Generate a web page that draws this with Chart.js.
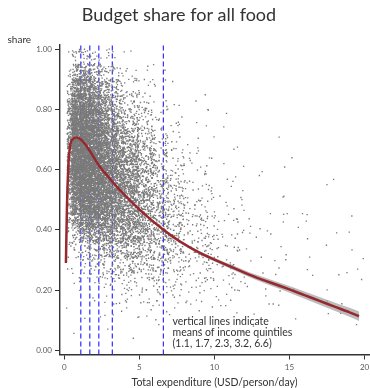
<!DOCTYPE html>
<html>
<head>
<meta charset="utf-8">
<script src="https://cdn.jsdelivr.net/npm/chart.js@4/dist/chart.umd.min.js"></script>
<style>
  html, body { margin: 0; padding: 0; background: #fff; }
  #wrap { width: 370px; height: 388px; position: relative; }
</style>
</head>
<body>
<div id="wrap"><canvas id="c" width="370" height="388"></canvas></div>
<script>
// ---- data ----------------------------------------------------------------
const quintileMeans = [1.1, 1.7, 2.3, 3.2, 6.6];   // USD/person/day
const xTicks = [0, 5, 10, 15, 20];
const yTicks = [0, 0.2, 0.4, 0.6, 0.8, 1.0];

// household scatter, binned: x-band edges and counts per 0.05 share band
const binEdgesX = [0.2, 0.5, 1, 1.5, 2, 2.5, 3, 3.5, 4, 5, 6, 7, 8, 10, 12, 15, 20];
const binStepY = 0.05;
// each row: one x-band, share bands from 0.00-0.05 (left) to 0.95-1.00 (right)
const cellCounts = [
  [0,0,0,0,0,1,2,5,10,17,26,34,38,38,36,30,22,12,5,1],
  [0,0,0,0,1,2,6,18,48,108,162,192,204,204,192,168,132,84,36,10],
  [0,0,0,1,2,5,12,34,78,144,190,204,210,210,198,174,138,96,48,12],
  [0,0,0,1,2,6,17,42,90,150,182,198,198,192,180,150,114,72,36,10],
  [0,0,1,1,4,8,22,48,90,138,162,174,168,156,138,108,78,48,22,6],
  [0,0,1,2,5,11,24,50,84,120,138,142,132,120,102,78,54,34,14,5],
  [0,0,1,2,6,12,26,50,78,102,114,110,102,90,72,54,36,22,10,2],
  [0,0,1,2,6,12,24,46,66,86,94,89,78,66,50,36,24,14,6,1],
  [0,0,3,6,14,30,58,95,126,140,140,128,112,87,63,42,25,13,6,1],
  [0,0,3,7,14,27,47,68,81,86,81,70,57,43,30,19,11,5,3,0],
  [0,1,3,6,13,23,36,47,52,49,43,35,26,18,12,7,4,3,1,0],
  [0,0,2,5,10,17,24,29,30,26,22,17,12,8,5,4,2,1,0,0],
  [0,1,3,8,15,22,26,27,24,19,14,10,7,5,3,3,2,0,0,0],
  [0,1,3,6,9,11,11,9,8,6,5,3,2,2,1,1,0,0,0,0],
  [0,1,2,4,6,6,5,4,4,3,2,2,1,0,1,0,0,0,0,0],
  [0,1,3,4,4,4,4,3,3,2,1,1,1,0,0,0,0,0,0,0]
];
// a few isolated households at very low shares
const lowOutliers = [
  { x: 0.16, y: 0.14 }, { x: 0.64, y: 0.056 }, { x: 1.37, y: 0.106 },
  { x: 2.9, y: 0.07 }, { x: 4.6, y: 0.04 }
];

// fitted curve with its confidence half-width
const curveX = [0.11, 0.18, 0.27, 0.38, 0.55, 0.82, 1.2, 1.7, 2.37, 3.0, 3.7, 5.03, 6.6, 7.68, 9.0, 10.0, 11.0, 12.0, 13.0, 14.0, 15.0, 16.0, 17.0, 18.0, 19.0, 19.63];
const curveY = [0.29, 0.48, 0.61, 0.676, 0.700, 0.706, 0.695, 0.662, 0.609, 0.572, 0.532, 0.466, 0.400, 0.362, 0.324, 0.301, 0.279, 0.258, 0.238, 0.220, 0.202, 0.183, 0.164, 0.145, 0.126, 0.113];
const curveHalf = [0.05, 0.03, 0.018, 0.01, 0.007, 0.005, 0.004, 0.004, 0.004, 0.004, 0.004, 0.004, 0.004, 0.005, 0.005, 0.006, 0.007, 0.008, 0.009, 0.010, 0.011, 0.012, 0.013, 0.014, 0.015, 0.016];

// ---- derived series --------------------------------------------------------
// deterministic integer hash -> [0,1), used to spread a cell's households over the cell
function unitHash(n) {
  let h = n | 0;
  h = Math.imul(h ^ (h >>> 16), 0x45d9f3b);
  h = Math.imul(h ^ (h >>> 16), 0x45d9f3b);
  h ^= h >>> 16;
  return (h >>> 0) / 4294967296;
}
const scatterPts = [];
cellCounts.forEach((row, c) => {
  const x0 = binEdgesX[c], x1 = binEdgesX[c + 1];
  row.forEach((n, r) => {
    const y0 = r * binStepY;
    for (let i = 0; i < n; i++) {
      const key = ((c * 20 + r) * 1000 + i) * 2 + 7;
      scatterPts.push({ x: x0 + unitHash(key) * (x1 - x0), y: y0 + unitHash(key + 1) * binStepY });
    }
  });
});
lowOutliers.forEach(p => scatterPts.push(p));

const curvePts = curveX.map((x, i) => ({ x, y: curveY[i] }));
const upperPts = curveX.map((x, i) => ({ x, y: curveY[i] + curveHalf[i] }));
const lowerPts = curveX.map((x, i) => ({ x, y: curveY[i] - curveHalf[i] }));

const X_MIN = -0.285, X_MAX = 20.3, Y_MIN = -0.014, Y_MAX = 1.015;
const FONT = 'Lato, "Open Sans", sans-serif';
const INK = '#333333';
const TICK_INK = '#595959';

const quintileSets = quintileMeans.map(m => ({
  type: 'line',
  data: [{ x: m, y: Y_MIN }, { x: m, y: Y_MAX }],
  borderColor: 'rgb(45,45,255)',
  borderWidth: 1.2,
  borderDash: [5, 3],
  pointRadius: 0,
  fill: false,
  order: 4
}));

// ---- text drawn around the plot -------------------------------------------
const labelsPlugin = {
  id: 'labels',
  afterDraw(chart) {
    const ctx = chart.ctx;
    ctx.save();
    ctx.fillStyle = INK;
    ctx.textBaseline = 'alphabetic';

    ctx.font = '18px ' + FONT;
    ctx.textAlign = 'center';
    ctx.fillText('Budget share for all food', 179, 21);

    ctx.font = '10px ' + FONT;
    ctx.textAlign = 'left';
    ctx.fillText('share', 7.5, 43);

    const xs = chart.scales.x;
    ctx.font = '10.5px ' + FONT;
    ctx.textAlign = 'center';
    ctx.fillText('Total expenditure (USD/person/day)', (xs.left + xs.right) / 2, 386);

    ctx.textAlign = 'left';
    ctx.font = '10.5px ' + FONT;
    const note = ['vertical lines indicate', 'means of income quintiles',
                  '(' + quintileMeans.join(', ') + ')'];
    note.forEach((t, i) => ctx.fillText(t, 172.5, 325 + i * 11));
    ctx.restore();
  }
};

new Chart(document.getElementById('c'), {
  type: 'scatter',
  data: {
    datasets: [
      {
        type: 'line', label: 'fit', data: curvePts,
        borderColor: '#96282e', borderWidth: 2.5,
        cubicInterpolationMode: 'monotone', pointRadius: 0, fill: false, order: 0
      },
      {
        type: 'line', label: 'upper', data: upperPts,
        borderWidth: 0, borderColor: 'rgba(0,0,0,0)', cubicInterpolationMode: 'monotone',
        pointRadius: 0, fill: false, order: 1
      },
      {
        type: 'line', label: 'lower', data: lowerPts,
        borderWidth: 0, borderColor: 'rgba(0,0,0,0)', cubicInterpolationMode: 'monotone',
        pointRadius: 0, fill: '-1', backgroundColor: 'rgba(165,165,165,0.75)', order: 1
      },
      {
        label: 'households', data: scatterPts,
        backgroundColor: '#7a7a7a', borderWidth: 0, pointStyle: 'rect',
        pointRadius: 0.95, pointHoverRadius: 0, order: 2
      },
      ...quintileSets
    ]
  },
  options: {
    responsive: false,
    animation: false,
    devicePixelRatio: 1,
    events: [],
    layout: { padding: { top: 44.5, left: 0, right: 0, bottom: 0 } },
    plugins: { legend: { display: false }, tooltip: { enabled: false }, title: { display: false } },
    scales: {
      x: {
        type: 'linear', min: X_MIN, max: X_MAX,
        afterBuildTicks: s => { s.ticks = xTicks.map(v => ({ value: v })); },
        afterFit: s => { s.height = 33.5; s.paddingLeft = 0; s.paddingRight = 0; },
        ticks: { color: TICK_INK, font: { family: FONT, size: 8 }, padding: 3,
                 maxRotation: 0, autoSkip: false, callback: v => String(v) },
        grid: { drawOnChartArea: false, drawTicks: true, tickLength: 5, color: INK, lineWidth: 1 },
        border: { display: true, color: INK, width: 1.4 }
      },
      y: {
        type: 'linear', min: Y_MIN, max: Y_MAX,
        afterBuildTicks: s => { s.ticks = yTicks.map(v => ({ value: v })); },
        afterFit: s => { s.width = 60; s.paddingTop = 0; s.paddingBottom = 0; },
        ticks: { color: TICK_INK, font: { family: FONT, size: 8 }, padding: 3,
                 autoSkip: false, callback: v => v.toFixed(2) },
        grid: { drawOnChartArea: false, drawTicks: true, tickLength: 5, color: INK, lineWidth: 1 },
        border: { display: true, color: INK, width: 1.4 }
      }
    }
  },
  plugins: [labelsPlugin]
});
</script>
</body>
</html>
